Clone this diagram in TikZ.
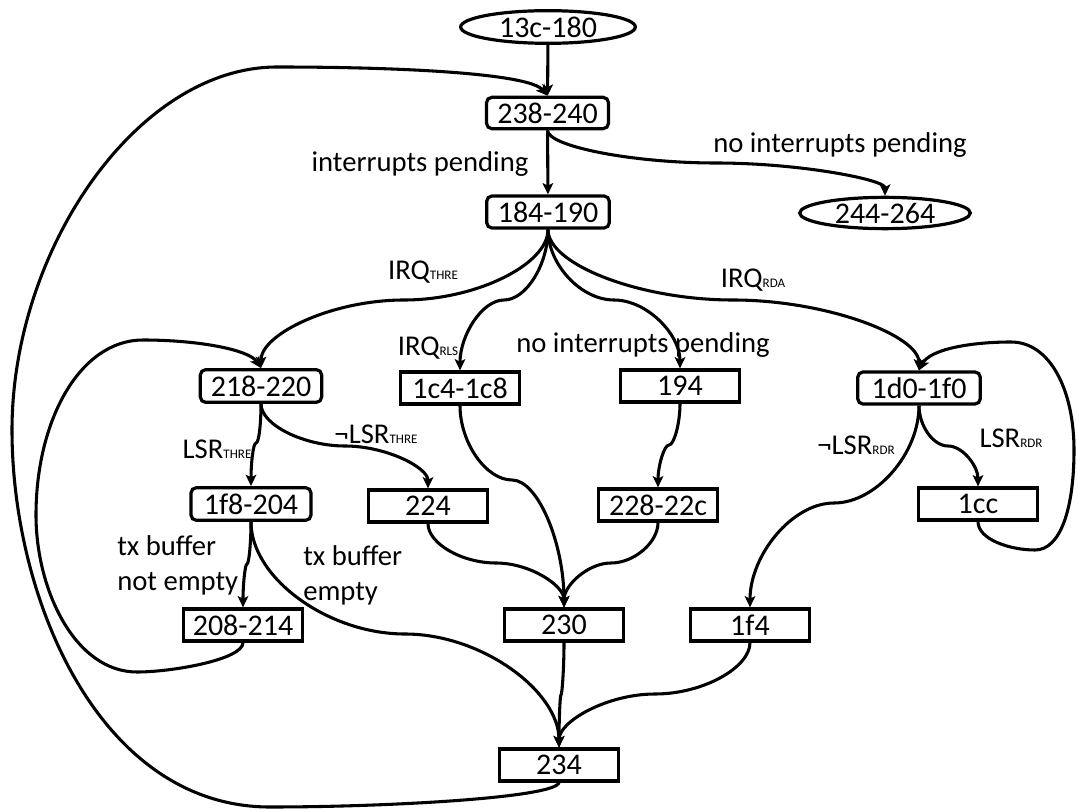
\documentclass[tikz,border=0pt]{standalone}
\usepackage{fontspec}
\setmainfont{Carlito}
\usetikzlibrary{shapes.geometric,arrows.meta}
% small subscript-like tag set on the baseline
\newcommand\lo[1]{{\fontsize{9.8}{10}\selectfont #1}}
\begin{document}
\begin{tikzpicture}[x=0.75pt,y=-0.75pt,
  every node/.style={font=\fontsize{21.5}{26.25}\selectfont},
  blk/.style={draw,line width=2.4pt,inner sep=0pt,minimum height=24pt,minimum width=89pt,
              font=\fontsize{22.5}{26}\selectfont},
  rblk/.style={blk,rounded corners=4pt},
  oval/.style={draw,ellipse,line width=2.4pt,inner sep=0pt,font=\fontsize{22.5}{26}\selectfont},
  edge/.style={line width=2.3pt,-{Stealth[length=8.5pt,width=8pt,inset=2pt]}},
  lbl/.style={anchor=base,inner sep=0pt}
]
\useasboundingbox (0,0) rectangle (1078,809);

% code blocks
\node[oval,minimum width=131pt,minimum height=24.5pt] (n13c) at (548,27) {13c-180};
\node[rblk,minimum width=91.5pt,minimum height=23.5pt] (n238) at (547.5,113) {238-240};
\node[rblk,minimum width=92pt] (n184) at (548,212) {184-190};
\node[oval,minimum width=128pt,minimum height=23.5pt] (n244) at (885,213) {244-264};
\node[rblk,minimum width=91pt,minimum height=24.5pt] (n218) at (261,386) {218-220};
\node[blk] (n1c4) at (460,388) {1c4-1c8};
\node[blk] (n194) at (680,386) {194};
\node[rblk,minimum width=92pt] (n1d0) at (919,388) {1d0-1f0};
\node[rblk,minimum width=90pt,minimum height=24.5pt] (n1f8) at (251,504) {1f8-204};
\node[blk] (n224) at (428,506) {224};
\node[blk] (n228) at (658,505) {228-22c};
\node[blk] (n1cc) at (978,504) {1cc};
\node[blk] (n208) at (243,625) {208-214};
\node[blk] (n230) at (564,625) {230};
\node[blk] (n1f4) at (750,625) {1f4};
\node[blk] (n234) at (559,765) {234};

% transitions
\draw[edge] (n13c) -- (n238);
\draw[edge] (n238) -- (n184);
\draw[edge] (n238.south) .. controls +(0,16) and +(-84,0) .. (716,163)
            .. controls +(84,0) and +(0,-16) .. (n244.north);

\draw[edge] (n184.south) .. controls +(0,35) and +(72,0) .. (404,300)
            .. controls +(-72,0) and +(0,-34) .. (n218.north);
\draw[edge] (n184.south) .. controls +(0,35) and +(22,0) .. (504,300)
            .. controls +(-22,0) and +(0,-35) .. (n1c4.north);
\draw[edge] (n184.south) .. controls +(0,35) and +(-33,0) .. (614,300)
            .. controls +(33,0) and +(0,-34) .. (n194.north);
\draw[edge] (n184.south) .. controls +(0,35) and +(-93,0) .. (733,300)
            .. controls +(93,0) and +(0,-35) .. (n1d0.north);

\draw[edge] (n218.south) .. controls +(0,19) and +(3,0) .. (256,443)
            .. controls +(-3,0) and +(0,-21) .. (n1f8.north);
\draw[edge] (n218.south) .. controls +(0,21) and +(-41,0) .. (345,446)
            .. controls +(41,0) and +(0,-21) .. (n224.north);
\draw[edge] (n1f8.south) .. controls +(0,20) and +(2,0) .. (247,564)
            .. controls +(-2,0) and +(0,-22) .. (n208.north);
\draw[edge] (n1f8.south) .. controls +(0,56) and +(-77,0) .. (405,634)
            .. controls +(77,0) and +(0,-56) .. (n234.north);

\draw[edge] (n224.south) .. controls +(0,20) and +(-34,0) .. (496,563)
            .. controls +(34,0) and +(0,-22) .. (n230.north);
\draw[edge] (n1c4.south) .. controls +(0,37) and +(-26,0) .. (512,480)
            .. controls +(26,0) and +(0,-64) .. (n230.north);
\draw[edge] (n228.south) .. controls +(0,20) and +(23,0) .. (611,563)
            .. controls +(-23,0) and +(0,-22) .. (n230.north);
\draw[edge] (n194.south) .. controls +(0,20) and +(5,0) .. (669,445)
            .. controls +(-5,0) and +(0,-21) .. (n228.north);

\draw[edge] (n1d0.south) .. controls +(0,48) and +(42,0) .. (834,503)
            .. controls +(-42,0) and +(0,-52) .. (n1f4.north);
\draw[edge] (n1d0.south) .. controls +(0,20) and +(-15,0) .. (948,446)
            .. controls +(15,0) and +(0,-20) .. (n1cc.north);

\draw[edge] (n230.south) .. controls +(0,26) and +(1,0) .. (561,695)
            .. controls +(-1,0) and +(0,-26) .. (n234.north);
\draw[edge] (n1f4.south) .. controls +(0,25) and +(48,0) .. (655,694)
            .. controls +(-48,0) and +(0,-26) .. (n234.north);

% loops back
\draw[edge] (n208.south) .. controls +(0,17) and +(35,0) .. (137,672)
            .. controls +(-62,0) and +(0,75) .. (36,515)
            .. controls +(0,-95) and +(-63,0) .. (143,340)
            .. controls +(57,0) and +(-12,-18) .. (n218.north);
\draw[edge] (n234.south) .. controls +(-4,15) and +(120,0) .. (270,807)
            .. controls +(-170,0) and +(0,170) .. (12,430)
            .. controls +(0,-180) and +(-140,0) .. (277,67)
            .. controls +(140,0) and +(-18,-21) .. (n238.north);
\draw[edge] (n1cc.south) .. controls +(0,18) and +(-25,0) .. (1035,550)
            .. controls +(25,0) and +(0,60) .. (1074,450)
            .. controls +(0,-60) and +(39,0) .. (1011,342)
            .. controls +(-41,0) and +(11,-21) .. (n1d0.north);

% conditions
\node[lbl] (l1) at (420,172) {interrupts pending};
\node[lbl] (l2) at (840,153) {no interrupts pending};
\node[lbl] (l3) at (423,280) {IRQ\lo{THRE}};
\node[lbl] (l4) at (428,355) {IRQ\lo{RLS}};
\node[lbl] (l5) at (643,352) {no interrupts pending};
\node[lbl] (l6) at (753,287) {IRQ\lo{RDA}};
\node[lbl] (l7) at (856,454) {¬LSR\lo{RDR}};
\node[lbl] (l8) at (1011,447) {LSR\lo{RDR}};
\node[lbl] (l9) at (217,458) {LSR\lo{THRE}};
\node[lbl] (l10) at (376,443) {¬LSR\lo{THRE}};
\node[lbl,anchor=base west] (l11) at (117,555)
  {\begin{tabular}[t]{@{}l@{}}tx buffer\\not empty\end{tabular}};
\node[lbl,anchor=base west] (l12) at (303,565)
  {\begin{tabular}[t]{@{}l@{}}tx buffer\\empty\end{tabular}};
\end{tikzpicture}
\end{document}
